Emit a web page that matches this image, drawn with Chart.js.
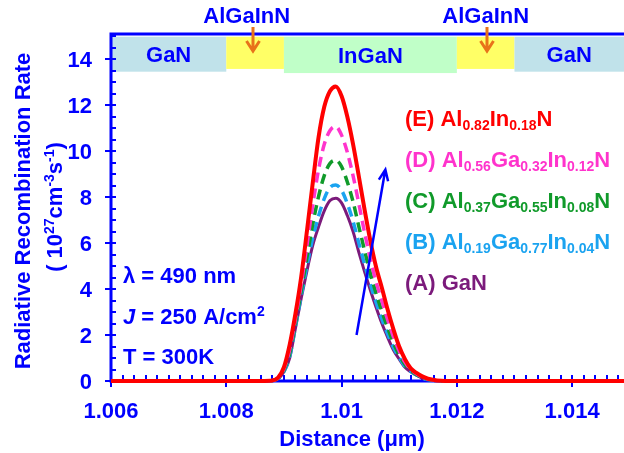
<!DOCTYPE html>
<html>
<head>
<meta charset="utf-8">
<script src="https://cdn.jsdelivr.net/npm/chart.js@4.4.0/dist/chart.umd.min.js"></script>
<style>
  html, body { margin: 0; padding: 0; background: #fff; }
  canvas { display: block; }
</style>
</head>
<body>
<canvas id="rateChart" width="624" height="453"></canvas>
<script>
// Distance along the structure (um)
const distance = [1.006, 1.0086, 1.0088, 1.0089, 1.0090, 1.0091, 1.0092, 1.0093, 1.0094, 1.0095,
  1.0096, 1.0097, 1.0098, 1.0099, 1.0100, 1.0101, 1.0102, 1.0103, 1.0104, 1.0105,
  1.0106, 1.0107, 1.0108, 1.0109, 1.0110, 1.0111, 1.0112, 1.0113, 1.0114, 1.0115, 1.0118, 1.0149];

// Radiative recombination rate (1e27 cm^-3 s^-1) for each barrier
const rateA = [0, 0, 0.02, 0.1, 0.4, 1.0, 2.3, 3.6, 4.8, 5.9, 6.7, 7.4, 7.85, 7.95, 7.75, 7.2, 6.5, 5.6, 4.75, 3.95,
  3.2, 2.5, 1.9, 1.35, 0.95, 0.6, 0.4, 0.25, 0.12, 0.05, 0, 0];
const rateB = [0, 0, 0.02, 0.11, 0.42, 1.07, 2.38, 3.71, 5.01, 6.23, 7.17, 7.94, 8.42, 8.53, 8.3, 7.72, 6.95, 6.0, 5.07, 4.21,
  3.41, 2.69, 2.04, 1.46, 1.02, 0.64, 0.42, 0.26, 0.13, 0.06, 0, 0];
const rateC = [0, 0, 0.02, 0.12, 0.47, 1.2, 2.51, 3.92, 5.39, 6.82, 8.02, 8.94, 9.47, 9.61, 9.33, 8.66, 7.8, 6.72, 5.67, 4.68,
  3.8, 3.03, 2.31, 1.66, 1.14, 0.72, 0.45, 0.28, 0.15, 0.07, 0, 0];
const rateD = [0, 0, 0.02, 0.13, 0.53, 1.37, 2.7, 4.2, 5.91, 7.64, 9.19, 10.3, 10.9, 11.07, 10.7, 9.95, 8.93, 7.71, 6.45, 5.3,
  4.3, 3.48, 2.66, 1.92, 1.3, 0.82, 0.5, 0.31, 0.17, 0.08, 0, 0];
const rateE = [0, 0, 0.02, 0.15, 0.6, 1.58, 2.93, 4.54, 6.54, 8.62, 10.59, 11.93, 12.62, 12.82, 12.4, 11.5, 10.3, 8.9, 7.45, 6.1,
  4.95, 4.05, 3.1, 2.25, 1.5, 0.95, 0.55, 0.35, 0.2, 0.1, 0, 0];

const seriesLabels = [
  '(E) Al_{0.82}In_{0.18}N',
  '(D) Al_{0.56}Ga_{0.32}In_{0.12}N',
  '(C) Al_{0.37}Ga_{0.55}In_{0.08}N',
  '(B) Al_{0.19}Ga_{0.77}In_{0.04}N',
  '(A) GaN'
];

// Layer stack drawn along the top of the plot
const layerNames = ['GaN', 'AlGaInN', 'InGaN', 'AlGaInN', 'GaN'];
const layerEdges = [1.006, 1.008, 1.009, 1.012, 1.013, 1.0149];

const yTicks = [0, 2, 4, 6, 8, 10, 12, 14];
const xTicks = [1.006, 1.008, 1.010, 1.012, 1.014];
const xTickLabels = ['1.006', '1.008', '1.01', '1.012', '1.014'];

const conditions = ['\u03bb = 490 nm', '~{J} = 250 A/cm^{2}', 'T = 300K'];

const BLUE = '#0000ff';
const FONT = '"Liberation Sans", Arial, sans-serif';
const SIZE = 22;

// tiny markup: _{sub}  ^{sup}  ~{italic}
function parseRich(str) {
  const parts = [];
  const re = /([_^~])\{([^}]*)\}|([^_^~]+)/g;
  let m;
  while ((m = re.exec(str))) {
    if (m[3]) parts.push({ t: m[3], k: '' });
    else parts.push({ t: m[2], k: m[1] });
  }
  return parts;
}

function drawRich(ctx, str, x, baseline, color, align, size) {
  size = size || SIZE;
  const small = Math.round(size * 0.64);
  const parts = parseRich(str);
  const fontFor = k => (k === '~' ? 'italic ' : '') + 'bold ' + (k === '_' || k === '^' ? small : size) + 'px ' + FONT;
  let w = 0;
  parts.forEach(p => { ctx.font = fontFor(p.k); p.w = ctx.measureText(p.t).width; w += p.w; });
  let cx = align === 'center' ? x - w / 2 : align === 'right' ? x - w : x;
  ctx.fillStyle = color;
  ctx.textAlign = 'left';
  ctx.textBaseline = 'alphabetic';
  parts.forEach(p => {
    ctx.font = fontFor(p.k);
    const dy = p.k === '_' ? size * 0.2 : p.k === '^' ? -size * 0.36 : 0;
    ctx.fillText(p.t, cx, baseline + dy);
    cx += p.w;
  });
}

const layerFill = { GaN: '#c0e2ea', AlGaInN: '#ffff66', InGaN: '#c0ffc8' };
const layerBottom = { GaN: 13.46, AlGaInN: 13.58, InGaN: 13.4 };

// axes, layer bands and tick marks under the curves
const framePlugin = {
  id: 'frame',
  beforeDatasetsDraw(chart) {
    const { ctx, chartArea: a, scales: { x, y } } = chart;
    ctx.save();

    layerNames.forEach((name, i) => {
      const x0 = x.getPixelForValue(layerEdges[i]);
      const x1 = x.getPixelForValue(layerEdges[i + 1]);
      const y0 = y.getPixelForValue(14.98);
      const y1 = y.getPixelForValue(layerBottom[name]);
      ctx.fillStyle = layerFill[name];
      ctx.fillRect(x0, y0, x1 - x0, y1 - y0);
      if (name !== 'AlGaInN') {
        drawRich(ctx, name, (x0 + x1) / 2, (y0 + y1) / 2 + 8, BLUE, 'center');
      }
    });

    ctx.strokeStyle = BLUE;
    ctx.lineWidth = 3;
    ctx.beginPath();
    ctx.moveTo(a.right, a.top);
    ctx.lineTo(a.left, a.top);
    ctx.lineTo(a.left, a.bottom);
    ctx.lineTo(a.right, a.bottom);
    ctx.stroke();

    // y ticks: minor every 0.5 inside, majors crossing the axis
    ctx.lineWidth = 2;
    ctx.beginPath();
    for (let v = 0; v <= 15; v += 0.5) {
      const py = Math.round(y.getPixelForValue(v));
      const major = yTicks.includes(v);
      ctx.moveTo(a.left - (major ? 6 : 0), py);
      ctx.lineTo(a.left + 5, py);
    }
    // x ticks: minor every 0.0002 inside
    for (let i = 0; i <= 45; i++) {
      const v = 1.006 + i * 0.0002;
      if (v > 1.0149) break;
      const px = Math.round(x.getPixelForValue(v));
      const major = i % 10 === 0;
      ctx.moveTo(px, a.bottom - 6);
      ctx.lineTo(px, a.bottom + (major ? 6 : 0));
    }
    ctx.stroke();

    yTicks.forEach(v => {
      drawRich(ctx, String(v), 92, y.getPixelForValue(v) + 8, BLUE, 'right');
    });
    xTicks.forEach((v, i) => {
      drawRich(ctx, xTickLabels[i], x.getPixelForValue(v), 418, BLUE, 'center');
    });
    ctx.restore();
  },
  afterDatasetsDraw(chart) {
    const { ctx, scales: { x, y } } = chart;
    ctx.save();

    // barrier labels with arrows pointing at the yellow layers
    [[246.7, 253], [485.7, 487]].forEach(([tx, ax]) => {
      drawRich(ctx, 'AlGaInN', tx, 23, BLUE, 'center');
      ctx.strokeStyle = '#e8731a';
      ctx.lineWidth = 3;
      ctx.beginPath();
      ctx.moveTo(ax, 27);
      ctx.lineTo(ax, 51);
      ctx.moveTo(ax - 6.5, 41);
      ctx.lineTo(ax, 51);
      ctx.lineTo(ax + 6.5, 41);
      ctx.stroke();
    });

    // trend arrow across the peaks
    const x0 = x.getPixelForValue(1.01026), y0 = y.getPixelForValue(2.0);
    const x1 = x.getPixelForValue(1.01076), y1 = y.getPixelForValue(9.2);
    const ang = Math.atan2(y1 - y0, x1 - x0);
    ctx.strokeStyle = BLUE;
    ctx.lineWidth = 2.5;
    ctx.beginPath();
    ctx.moveTo(x0, y0);
    ctx.lineTo(x1, y1);
    ctx.moveTo(x1 - 12 * Math.cos(ang - 0.4), y1 - 12 * Math.sin(ang - 0.4));
    ctx.lineTo(x1, y1);
    ctx.lineTo(x1 - 12 * Math.cos(ang + 0.4), y1 - 12 * Math.sin(ang + 0.4));
    ctx.stroke();

    // series labels
    chart.data.datasets.forEach((ds, i) => {
      drawRich(ctx, seriesLabels[i], 405, 126 + i * 41, ds.borderColor, 'left');
    });

    conditions.forEach((t, i) => {
      drawRich(ctx, t, 123, 283 + i * 40.5, BLUE, 'left');
    });

    drawRich(ctx, 'Distance (\u03bcm)', 352, 446, BLUE, 'center');

    ctx.save();
    ctx.translate(30, 211);
    ctx.rotate(-Math.PI / 2);
    drawRich(ctx, 'Radiative Recombination Rate', 0, 0, BLUE, 'center');
    ctx.restore();
    ctx.save();
    ctx.translate(62, 207);
    ctx.rotate(-Math.PI / 2);
    drawRich(ctx, '( 10^{27}cm^{-3}s^{-1})', 0, 0, BLUE, 'center');
    ctx.restore();

    ctx.restore();
  }
};

function series(values, color, width, dash, order) {
  return {
    data: distance.map((d, i) => ({ x: d, y: values[i] })),
    borderColor: color,
    borderWidth: width,
    borderDash: dash,
    pointRadius: 0,
    fill: false,
    cubicInterpolationMode: 'monotone',
    clip: false,
    order: order
  };
}

new Chart(document.getElementById('rateChart'), {
  type: 'line',
  data: {
    datasets: [
      series(rateE, '#ff0000', 4, [], 0),
      series(rateD, '#ff33cc', 3.5, [10, 6], 1),
      series(rateC, '#109a2a', 3.5, [10, 6], 2),
      series(rateB, '#1aa3f0', 3.5, [10, 6], 3),
      series(rateA, '#7b1a7b', 3, [], 4)
    ]
  },
  options: {
    responsive: false,
    animation: false,
    events: [],
    layout: { padding: { left: 111, top: 34, right: 0, bottom: 72 } },
    plugins: { legend: { display: false }, tooltip: { enabled: false } },
    scales: {
      x: { type: 'linear', min: 1.006, max: 1.0149, display: false },
      y: { min: 0, max: 15.1, display: false }
    }
  },
  plugins: [framePlugin]
});
</script>
</body>
</html>
